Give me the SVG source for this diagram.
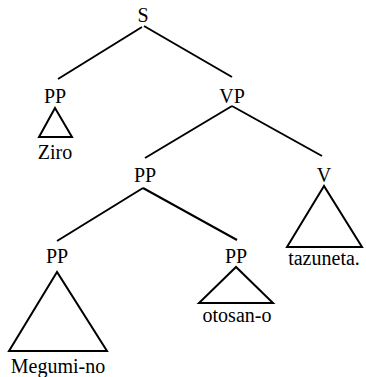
<svg xmlns="http://www.w3.org/2000/svg" width="366" height="377" viewBox="0 0 366 377">
<style>
text{font-family:"Liberation Serif","Times New Roman",serif;font-size:20px;fill:#000;text-anchor:middle}
.e{stroke:#000;stroke-width:2;fill:none}
.t{stroke:#000;stroke-width:2;fill:none;stroke-linejoin:miter}
</style>
<rect width="366" height="377" fill="#fff"/>
<g id="connectors">
<line class="e" x1="142" y1="27" x2="58" y2="79"/>
<line class="e" x1="144" y1="26" x2="232" y2="77"/>
<line class="e" x1="232" y1="106" x2="145" y2="158"/>
<line class="e" x1="232" y1="106" x2="322" y2="156"/>
<line class="e" x1="143" y1="188" x2="57" y2="241"/>
<line class="e" x1="143" y1="188" x2="237" y2="240"/>
</g>
<g id="S"><text x="143" y="22">S</text></g>
<g id="PP1"><text x="55" y="103">PP</text><polygon class="t" points="55,108 39,137 72,137"/><text x="55" y="159">Ziro</text></g>
<g id="VP"><text x="232" y="103">VP</text></g>
<g id="PP2"><text x="145" y="182">PP</text></g>
<g id="V"><text x="324" y="182">V</text><polygon class="t" points="324,186 287,247 362,247"/><text x="324" y="265">tazuneta.</text></g>
<g id="PP3"><text x="57" y="263">PP</text><polygon class="t" points="57,272 9,351 107,351"/><text x="58" y="373">Megumi-no</text></g>
<g id="PP4"><text x="236" y="263">PP</text><polygon class="t" points="236,267 199,303 273,303"/><text x="237" y="322">otosan-o</text></g>
</svg>
